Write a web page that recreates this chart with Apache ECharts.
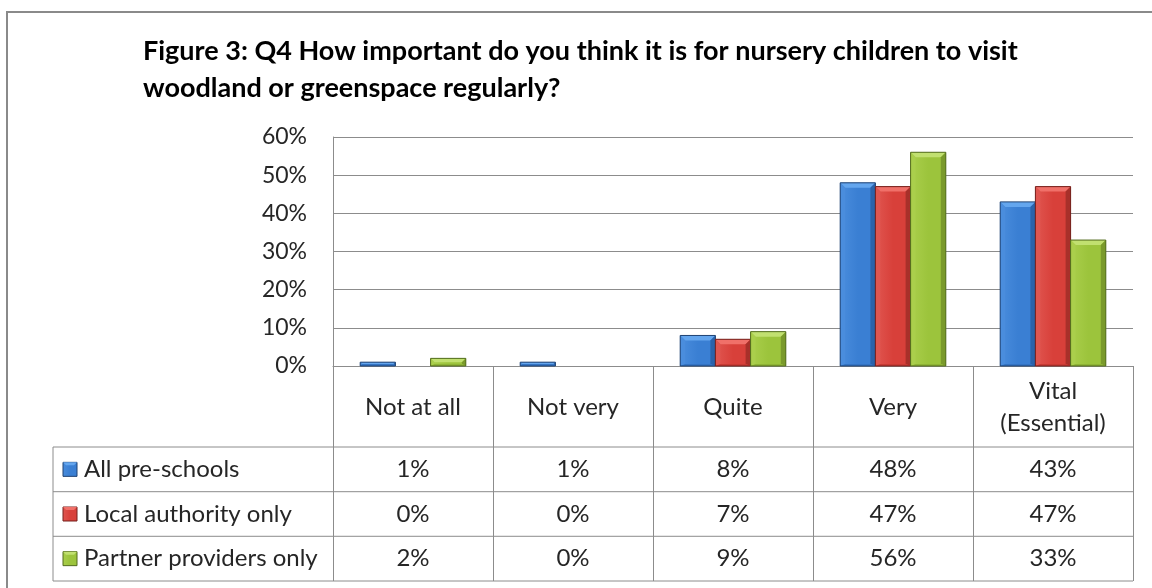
<!DOCTYPE html>
<html>
<head>
<meta charset="utf-8">
<script src="https://cdn.jsdelivr.net/npm/echarts@6/dist/echarts.min.js"></script>
<style>
html, body { margin: 0; padding: 0; background: #ffffff; }
#chart { width: 1152px; height: 588px; }
</style>
</head>
<body>
<div id="chart"></div>
<script>
// Survey answers: share of respondents per importance level (percent)
const categories = ['Not at all', 'Not very', 'Quite', 'Very', 'Vital\n(Essential)'];
const seriesNames = ['All pre-schools', 'Local authority only', 'Partner providers only'];
const allPreSchools = [1, 1, 8, 48, 43];
const localAuthorityOnly = [0, 0, 7, 47, 47];
const partnerProvidersOnly = [2, 0, 9, 56, 33];
const titleLines = ['Figure 3: Q4 How important do you think it is for nursery children to visit',
                    'woodland or greenspace regularly?'];
const yMin = 0, yMax = 60, yStep = 10;

const seriesValues = [allPreSchools, localAuthorityOnly, partnerProvidersOnly];

// bevelled bar shading per series
const shades = [
  { face: '#3a7fd3', top: '#64a6ee', left: '#4a8ddd', right: '#2b63aa', bottom: '#3474c4', line: '#1f4272' },
  { face: '#d8403a', top: '#f07069', left: '#e05650', right: '#a8302a', bottom: '#c83a34', line: '#74201c' },
  { face: '#9cc43c', top: '#c1e070', left: '#aacf4c', right: '#7a9a2b', bottom: '#8fb436', line: '#526b1d' }
];

const FONT = 'Lato, "Liberation Sans", sans-serif';
const TEXT = '#262626';
const GRID = '#8c8c8c';
const CATEGORY_GAP = 0.34;   // share of each band left empty between groups
const BEVEL = 5;

function faceFill(s) {
  return new echarts.graphic.LinearGradient(0, 0, 1, 0, [
    { offset: 0, color: s.left },
    { offset: 0.5, color: s.face },
    { offset: 1, color: s.face }
  ]);
}

// one bevelled bar per data item, placed with the chart's own scales
function bevelBar(seriesIdx) {
  const s = shades[seriesIdx];
  const n = seriesValues.length;
  return function (params, api) {
    const cat = api.value(0);
    const val = api.value(1);
    if (!(val > 0)) return null;
    const base = api.coord([cat, 0]);
    const tip = api.coord([cat, val]);
    const band = api.size([1, 0])[0];
    const bw = band * (1 - CATEGORY_GAP) / n;
    const x0 = base[0] - bw * n / 2 + seriesIdx * bw;
    const x1 = x0 + bw;
    const yb = base[1];
    const yt = tip[1];
    const h = yb - yt;
    const b = Math.max(0.5, Math.min(BEVEL, h / 2, bw / 2));
    const bb = Math.min(2, b);
    return {
      type: 'group',
      children: [
        { type: 'rect', shape: { x: x0, y: yt, width: bw, height: h }, style: { fill: faceFill(s) } },
        { type: 'polygon', shape: { points: [[x0, yt], [x1, yt], [x1 - b, yt + b], [x0 + b, yt + b]] },
          style: { fill: s.top } },
        { type: 'polygon', shape: { points: [[x0, yt], [x0 + b, yt + b], [x0 + b, yb - bb], [x0, yb]] },
          style: { fill: s.left } },
        { type: 'polygon', shape: { points: [[x1, yt], [x1 - b, yt + b], [x1 - b, yb - bb], [x1, yb]] },
          style: { fill: s.right } },
        { type: 'polygon', shape: { points: [[x0, yb], [x0 + b, yb - bb], [x1 - b, yb - bb], [x1, yb]] },
          style: { fill: s.bottom } },
        { type: 'rect', shape: { x: x0, y: yt, width: bw, height: h },
          style: { fill: null, stroke: s.line, lineWidth: 1 } }
      ]
    };
  };
}

const chart = echarts.init(document.getElementById('chart'), null, { renderer: 'canvas' });

const plot = { left: 333, right: 19, top: 137, bottom: 222 };

chart.setOption({
  animation: false,
  backgroundColor: '#ffffff',
  textStyle: { fontFamily: FONT },
  grid: { left: plot.left, right: plot.right, top: plot.top, bottom: plot.bottom, containLabel: false },
  xAxis: {
    type: 'category',
    data: categories,
    boundaryGap: true,
    axisLine: { show: true, lineStyle: { color: GRID, width: 1 } },
    axisTick: { show: true, length: 215, lineStyle: { color: GRID, width: 1 } },
    axisLabel: {
      show: true, interval: 0, margin: 41, verticalAlign: 'middle',
      fontFamily: FONT, fontSize: 24, color: TEXT, lineHeight: 32, align: 'center'
    },
    splitLine: { show: false }
  },
  yAxis: {
    type: 'value',
    min: yMin, max: yMax, interval: yStep,
    axisLine: { show: true, lineStyle: { color: GRID, width: 1 } },
    axisTick: { show: false },
    axisLabel: { formatter: '{value}%', fontFamily: FONT, fontSize: 23, color: TEXT, margin: 26 },
    splitLine: { show: true, lineStyle: { color: GRID, width: 1 } }
  },
  series: seriesValues.map((vals, i) => ({
    name: seriesNames[i],
    type: 'custom',
    renderItem: bevelBar(i),
    encode: { x: 0, y: 1 },
    data: vals.map((v, c) => [c, v]),
    z: 3
  }))
});

// data table under the plot, aligned to the category axis
const tableLeft = 53;
const plotRight = 1152 - plot.right;
const rowTops = [447, 491.7, 536.3, 581];
const graphics = [];

// outer frame
graphics.push({
  type: 'rect', shape: { x: 7, y: 12, width: 1170, height: 620 },
  style: { fill: null, stroke: '#8a8a8a', lineWidth: 2 }, silent: true, z: 0
});

// title
titleLines.forEach((t, k) => {
  graphics.push({
    type: 'text', x: 143, y: 51 + k * 37,
    style: { text: t, font: 'bold 27px ' + FONT, fill: '#000000', textVerticalAlign: 'middle' }
  });
});

// table rules
rowTops.forEach(y => {
  graphics.push({ type: 'line', shape: { x1: tableLeft, y1: y, x2: plotRight, y2: y },
    style: { stroke: GRID, lineWidth: 1 }, silent: true });
});
graphics.push({ type: 'line', shape: { x1: tableLeft, y1: rowTops[0], x2: tableLeft, y2: rowTops[3] },
  style: { stroke: GRID, lineWidth: 1 }, silent: true });

seriesNames.forEach((name, r) => {
  const cy = (rowTops[r] + rowTops[r + 1]) / 2;
  const s = shades[r];
  graphics.push({
    type: 'rect', shape: { x: 63, y: cy - 7, width: 14, height: 14 },
    style: { fill: faceFill(s), stroke: s.line, lineWidth: 1 }
  });
  graphics.push({
    type: 'polygon', shape: { points: [[63, cy - 7], [77, cy - 7], [74, cy - 4], [66, cy - 4]] },
    style: { fill: s.top }
  });
  graphics.push({
    type: 'text', x: 84, y: cy,
    style: { text: name, font: '24px ' + FONT, fill: TEXT, textVerticalAlign: 'middle' }
  });
  seriesValues[r].forEach((v, c) => {
    const cx = chart.convertToPixel({ xAxisIndex: 0 }, c);
    graphics.push({
      type: 'text', x: cx, y: cy,
      style: { text: v + '%', font: '24px ' + FONT, fill: TEXT, textAlign: 'center', textVerticalAlign: 'middle' }
    });
  });
});

chart.setOption({ graphic: graphics });
</script>
</body>
</html>
